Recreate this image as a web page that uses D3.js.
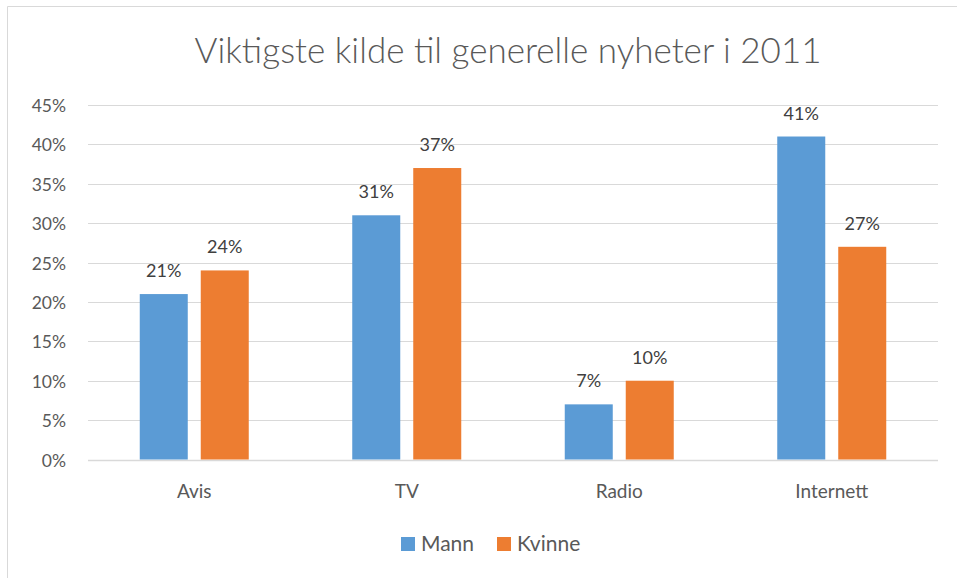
<!DOCTYPE html>
<html>
<head>
<meta charset="utf-8">
<script src="https://cdn.jsdelivr.net/npm/d3@7"></script>
<style>
  body { margin: 0; background: #fff; }
  text { font-family: Lato, "Open Sans", sans-serif; }
</style>
</head>
<body>
<div id="chart"></div>
<script>
const categories = ["Avis", "TV", "Radio", "Internett"];
const seriesNames = ["Mann", "Kvinne"];
const mann = [0.21, 0.31, 0.07, 0.41];
const kvinne = [0.24, 0.37, 0.10, 0.27];
const yTicks = [0, 0.05, 0.10, 0.15, 0.20, 0.25, 0.30, 0.35, 0.40, 0.45];
const colors = ["#5b9bd5", "#ed7d31"];

const width = 957, height = 578;
const margin = {top: 105, right: 19, bottom: 118, left: 88};

const svg = d3.select("#chart").append("svg")
    .attr("width", width)
    .attr("height", height);

// frame (cropped on right/bottom)
svg.append("path")
    .attr("d", `M7.5,${height} V6.5 H${width}`)
    .attr("fill", "none")
    .attr("stroke", "#d9d9d9")
    .attr("stroke-width", 1);

svg.append("text")
    .attr("x", 508)
    .attr("y", 63)
    .attr("text-anchor", "middle")
    .attr("font-size", 35)
    .attr("font-weight", 300)
    .attr("fill", "#595959")
    .text("Viktigste kilde til generelle nyheter i 2011");

const x0 = d3.scaleBand()
    .domain(categories)
    .range([margin.left, width - margin.right]);

const x1 = d3.scaleBand()
    .domain(seriesNames)
    .range([0, 109])
    .paddingInner(0.213);

const y = d3.scaleLinear()
    .domain([0, 0.45])
    .range([height - margin.bottom - 0.5, margin.top]);

// gridlines
svg.append("g")
    .selectAll("line")
    .data(yTicks)
    .join("line")
    .attr("x1", margin.left)
    .attr("x2", width - margin.right)
    .attr("y1", d => Math.round(y(d)) + 0.5)
    .attr("y2", d => Math.round(y(d)) + 0.5)
    .attr("stroke", "#d9d9d9")
    .attr("stroke-width", d => d === 0 ? 1.5 : 1);

// y labels
svg.append("g")
    .selectAll("text")
    .data(yTicks)
    .join("text")
    .attr("x", 66)
    .attr("y", d => y(d) + 7)
    .attr("text-anchor", "end")
    .attr("font-size", 17.5)
    .attr("fill", "#595959")
    .text(d => d3.format(".0%")(d));

// x labels
svg.append("g")
    .selectAll("text")
    .data(categories)
    .join("text")
    .attr("x", d => x0(d) + x0.bandwidth() / 2)
    .attr("y", 498)
    .attr("text-anchor", "middle")
    .attr("font-size", 19)
    .attr("fill", "#595959")
    .text(d => d);

const rows = categories.map((c, i) => ({
    cat: c,
    vals: [{s: "Mann", v: mann[i]}, {s: "Kvinne", v: kvinne[i]}]
}));

const groups = svg.append("g")
    .selectAll("g")
    .data(rows)
    .join("g")
    .attr("transform", d => `translate(${x0(d.cat) + x0.bandwidth() / 2 - 54.5},0)`);

groups.selectAll("rect")
    .data(d => d.vals)
    .join("rect")
    .attr("x", d => x1(d.s))
    .attr("width", x1.bandwidth())
    .attr("y", d => y(d.v))
    .attr("height", d => y(0) - y(d.v))
    .attr("fill", (d, i) => colors[i]);

groups.selectAll("text")
    .data(d => d.vals)
    .join("text")
    .attr("x", d => x1(d.s) + x1.bandwidth() / 2)
    .attr("y", d => y(d.v) - 17)
    .attr("text-anchor", "middle")
    .attr("font-size", 18)
    .attr("fill", "#404040")
    .text(d => d3.format(".0%")(d.v));

// legend
const legend = svg.append("g")
    .attr("transform", "translate(401,537)");
const legendX = [0, 96];
seriesNames.forEach((s, i) => {
    const g = legend.append("g").attr("transform", `translate(${legendX[i]},0)`);
    g.append("rect")
        .attr("width", 14)
        .attr("height", 14)
        .attr("fill", colors[i]);
    g.append("text")
        .attr("x", 20)
        .attr("y", 14)
        .attr("font-size", 21)
        .attr("fill", "#595959")
        .text(s);
});
</script>
</body>
</html>
